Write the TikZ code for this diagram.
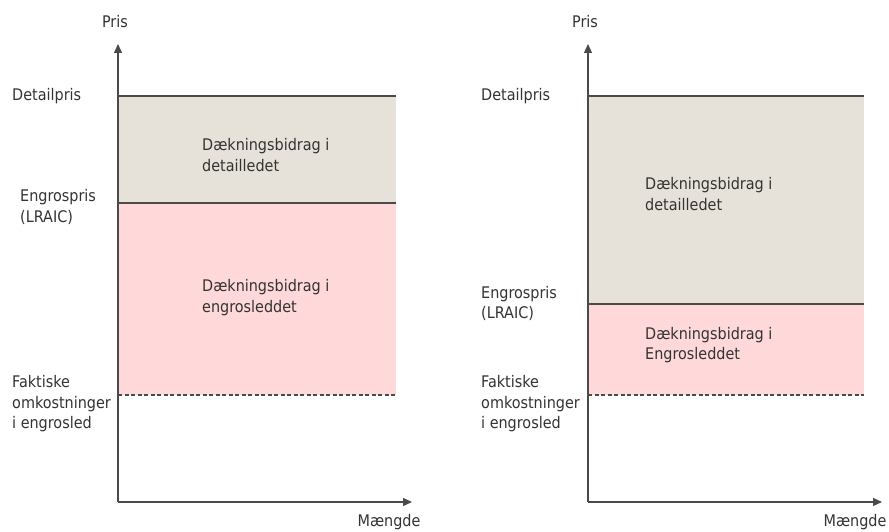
\documentclass[tikz,border=0pt]{standalone}
\usepackage{fontspec}
\setmainfont{DejaVu Sans Condensed}
\usetikzlibrary{arrows.meta}
\definecolor{inkgray}{HTML}{333333}
\definecolor{linegray}{HTML}{4A4A4A}
\definecolor{retailfill}{HTML}{E6E2D9}
\definecolor{wholesalefill}{HTML}{FFD9D9}
\tikzset{
  axis/.style={draw=linegray, line width=1.2pt, -{Triangle[length=9pt,width=8pt]}},
  level/.style={draw=linegray, line width=1.2pt},
  costlevel/.style={draw=linegray, line width=1.1pt, dash pattern=on 4pt off 2.5pt},
  lbl/.style={text=inkgray, font=\fontsize{16}{20.5}\selectfont, inner sep=0pt, align=left, anchor=west},
  axlbl/.style={text=inkgray, font=\fontsize{16}{20.5}\selectfont, inner sep=0pt}
}
\begin{document}
\begin{tikzpicture}[x=1pt,y=-1pt]
\useasboundingbox (0,0) rectangle (889,532);

% ---------- left panel ----------
\coordinate (lo) at (118,502);
\coordinate (ltop) at (118,44);
\coordinate (lright) at (412,502);
\coordinate (ldA) at (118,96);   \coordinate (ldB) at (396,96);
\coordinate (leA) at (118,203);  \coordinate (leB) at (396,203);
\coordinate (lcA) at (118,395);  \coordinate (lcB) at (396,395);

\fill[retailfill] (ldA) rectangle (leB);
\fill[wholesalefill] (leA) rectangle (lcB);
\draw[level] (ldA) -- (ldB);
\draw[level] (leA) -- (leB);
\draw[costlevel] (lcA) -- (lcB);
\draw[axis] (lo) -- (ltop);
\draw[axis] (lo) -- (lright);

\node[axlbl] (lpris) at (115,22) {Pris};
\node[axlbl] (lmaengde) at (389,522) {Mængde};
\node[lbl] (ldetail) at (12,96) {Detailpris};
\node[lbl] (lengros) at (20,207) {Engrospris\\(LRAIC)};
\node[lbl] (lcost) at (12,404) {Faktiske\\omkostninger\\i engrosled};
\node[lbl] (lretail) at (202,155) {Dækningsbidrag i\\detailledet};
\node[lbl] (lwhole) at (202,297.5) {Dækningsbidrag i\\engrosleddet};

% ---------- right panel ----------
\coordinate (ro) at (588,502);
\coordinate (rtop) at (588,44);
\coordinate (rright) at (882,502);
\coordinate (rdA) at (588,96);   \coordinate (rdB) at (864,96);
\coordinate (reA) at (588,304);  \coordinate (reB) at (864,304);
\coordinate (rcA) at (588,395);  \coordinate (rcB) at (864,395);

\fill[retailfill] (rdA) rectangle (reB);
\fill[wholesalefill] (reA) rectangle (rcB);
\draw[level] (rdA) -- (rdB);
\draw[level] (reA) -- (reB);
\draw[costlevel] (rcA) -- (rcB);
\draw[axis] (ro) -- (rtop);
\draw[axis] (ro) -- (rright);

\node[axlbl] (rpris) at (585,22) {Pris};
\node[axlbl] (rmaengde) at (855,522) {Mængde};
\node[lbl] (rdetail) at (481,96) {Detailpris};
\node[lbl] (rengros) at (481,303.5) {Engrospris\\(LRAIC)};
\node[lbl] (rcost) at (481,404) {Faktiske\\omkostninger\\i engrosled};
\node[lbl] (rretail) at (645,194) {Dækningsbidrag i\\detailledet};
\node[lbl] (rwhole) at (645,345) {Dækningsbidrag i\\Engrosleddet};
\end{tikzpicture}
\end{document}
